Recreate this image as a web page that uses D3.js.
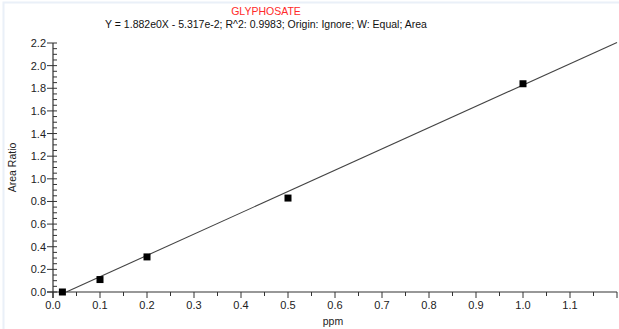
<!DOCTYPE html>
<html>
<head>
<meta charset="utf-8">
<script src="https://cdn.jsdelivr.net/npm/d3@7"></script>
<style>
  body { margin: 0; background: #fff; }
  svg { display: block; font-family: "Liberation Sans", Arial, sans-serif; }
</style>
</head>
<body>
<div id="chart"></div>
<script>
// Calibration points
const concentrations = [0.02, 0.1, 0.2, 0.5, 1.0]
const areaRatios = [0.0, 0.11, 0.31, 0.83, 1.84]

// Fit: Y = 1.882e0X - 5.317e-2
const slope = 1.882
const intercept = -0.05317

const xTicks = [0.0, 0.1, 0.2, 0.3, 0.4, 0.5, 0.6, 0.7, 0.8, 0.9, 1.0, 1.1]
const yTicks = [0.0, 0.2, 0.4, 0.6, 0.8, 1.0, 1.2, 1.4, 1.6, 1.8, 2.0, 2.2]

const title = 'GLYPHOSATE'
const subtitle = 'Y = 1.882e0X - 5.317e-2; R^2: 0.9983; Origin: Ignore; W: Equal; Area'

const width = 619, height = 329
const m = { left: 53, right: 2, top: 43, bottom: 37 }

const svg = d3.select('#chart').append('svg')
    .attr('width', width).attr('height', height)

// faint frame of the original screenshot
svg.append('path')
    .attr('d', `M3.5,${height} V2.5 H${width}`)
    .attr('fill', 'none').attr('stroke', '#eaf0f8').attr('stroke-width', 2)

const x = d3.scaleLinear().domain([0, 1.2]).range([m.left, width - m.right])
const y = d3.scaleLinear().domain([0, 2.2]).range([height - m.bottom, m.top])

// titles
svg.append('text').attr('x', 266).attr('y', 15)
    .attr('text-anchor', 'middle').attr('font-size', 10.5).attr('fill', '#ff2a2a')
    .text(title)
svg.append('text').attr('x', 266).attr('y', 28)
    .attr('text-anchor', 'middle').attr('font-size', 10.5).attr('fill', '#111')
    .text(subtitle)

// x axis: major ticks with labels, minor ticks every 0.05
const gx = svg.append('g').attr('transform', `translate(0,${y(0)})`)
gx.append('line')
    .attr('x1', m.left - 6).attr('x2', x(1.2))
    .attr('stroke', '#333').attr('stroke-width', 1.2)
gx.selectAll('.minor').data(d3.range(0.05, 1.2, 0.1))
  .join('line')
    .attr('x1', d => x(d)).attr('x2', d => x(d))
    .attr('y1', 0).attr('y2', 4)
    .attr('stroke', '#333')
gx.selectAll('.major').data(xTicks.concat([1.2]))
  .join('line')
    .attr('x1', d => x(d)).attr('x2', d => x(d))
    .attr('y1', 0).attr('y2', 6)
    .attr('stroke', '#333')
gx.selectAll('text').data(xTicks)
  .join('text')
    .attr('x', d => x(d)).attr('y', 17)
    .attr('text-anchor', 'middle').attr('font-size', 11).attr('fill', '#222')
    .text(d => d3.format('.1f')(d))

svg.append('text').attr('x', 333).attr('y', 325)
    .attr('text-anchor', 'middle').attr('font-size', 10.5).attr('fill', '#222')
    .text('ppm')

// y axis: labeled major ticks outward, minor ticks inward every 0.05
const gy = svg.append('g').attr('transform', `translate(${x(0)},0)`)
gy.append('line')
    .attr('y1', y(2.2)).attr('y2', y(0) + 6)
    .attr('stroke', '#333').attr('stroke-width', 1.2)
gy.selectAll('.minor').data(d3.range(0, 2.2001, 0.05))
  .join('line')
    .attr('y1', d => y(d)).attr('y2', d => y(d))
    .attr('x1', 0).attr('x2', 4)
    .attr('stroke', '#333')
gy.selectAll('.major').data(yTicks)
  .join('line')
    .attr('y1', d => y(d)).attr('y2', d => y(d))
    .attr('x1', -6).attr('x2', 0)
    .attr('stroke', '#333')
gy.selectAll('text').data(yTicks)
  .join('text')
    .attr('x', -7).attr('y', d => y(d) + 4)
    .attr('text-anchor', 'end').attr('font-size', 11).attr('fill', '#222')
    .text(d => d3.format('.1f')(d))

svg.append('text')
    .attr('transform', `translate(16,${(y(0) + y(2.2)) / 2}) rotate(-90)`)
    .attr('text-anchor', 'middle').attr('font-size', 10.5).attr('fill', '#222')
    .text('Area Ratio')

// regression line from its x-intercept to the right edge
const x0 = -intercept / slope
svg.append('line')
    .attr('x1', x(x0)).attr('y1', y(0))
    .attr('x2', x(1.2)).attr('y2', y(slope * 1.2 + intercept))
    .attr('stroke', '#444').attr('stroke-width', 1.1)

// data points as small black squares
svg.selectAll('.pt').data(concentrations)
  .join('rect')
    .attr('x', (d, i) => x(d) - 3.5)
    .attr('y', (d, i) => y(areaRatios[i]) - 3.5)
    .attr('width', 7).attr('height', 7)
    .attr('fill', '#000')
</script>
</body>
</html>
